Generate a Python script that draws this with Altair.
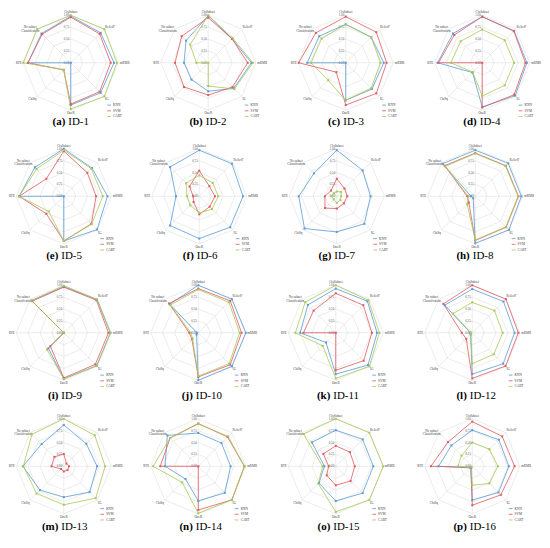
import math
import altair as alt
import pandas as pd

AXES = ["CfsSubset", "ReliefF", "mRMR", "IG", "OneR", "ChiSq", "RFE",
        "No subset\nClassification"]
SERIES = ["KNN", "SVM", "CART"]
COLORS = ["#5b9bd5", "#e05a5f", "#a8c85a"]
LETTERS = list("abcdefghijklmnop")
IDS = ["ID-%d" % i for i in range(1, 17)]
TICKS = [0.0, 0.25, 0.5, 0.75, 1.0]
TICK_LABELS = ["0.00", "0.25", "0.50", "0.75", "1.00"]

# values per panel, axis order: top, then clockwise
KNN = [
    [0.98, 0.89, 0.91, 0.89, 0.89, 0.00, 0.90, 0.87],
    [0.99, 0.71, 0.91, 0.76, 0.60, 0.50, 0.51, 0.66],
    [0.81, 0.76, 0.80, 0.78, 0.79, 0.00, 0.81, 0.79],
    [0.97, 0.95, 0.94, 0.98, 0.93, 0.29, 0.94, 0.87],
    [1.00, 0.84, 0.92, 0.99, 0.94, 0.00, 0.94, 0.86],
    [0.97, 0.97, 0.92, 0.92, 0.89, 0.87, 0.49, 0.87],
    [0.97, 0.77, 0.71, 0.82, 0.75, 0.96, 0.80, 0.68],
    [0.97, 0.98, 0.97, 1.00, 0.99, 0.06, 0.09, 0.97],
    [0.97, 0.99, 0.98, 0.98, 0.97, 0.46, 0.00, 0.96],
    [1.00, 1.00, 1.00, 1.00, 1.00, 0.05, 0.03, 0.85],
    [0.93, 0.94, 0.87, 0.96, 0.87, 0.29, 0.75, 0.83],
    [0.92, 0.93, 0.89, 0.92, 0.87, 0.05, 0.04, 0.82],
    [0.87, 0.67, 0.70, 0.77, 0.65, 0.71, 0.86, 0.66],
    [0.70, 0.69, 0.68, 0.79, 0.73, 0.38, 0.70, 0.92],
    [0.76, 0.80, 0.79, 0.80, 0.73, 0.50, 0.24, 0.71],
    [0.76, 0.79, 0.77, 0.78, 0.71, 0.05, 0.71, 0.62],
]
SVM = [
    [0.96, 0.86, 0.84, 0.86, 0.87, 0.21, 0.90, 0.85],
    [0.95, 0.71, 0.83, 0.72, 0.68, 0.72, 0.70, 0.79],
    [0.97, 0.91, 0.86, 0.91, 0.89, 0.28, 0.99, 0.89],
    [0.97, 0.94, 0.91, 0.95, 0.94, 0.00, 0.92, 0.83],
    [0.95, 0.70, 0.68, 0.82, 0.94, 0.52, 0.94, 0.52],
    [0.54, 0.30, 0.33, 0.31, 0.38, 0.17, 0.13, 0.29],
    [0.37, 0.23, 0.22, 0.21, 0.26, 0.35, 0.25, 0.17],
    [0.91, 0.91, 0.91, 0.92, 0.93, 0.19, 0.17, 0.91],
    [0.96, 0.97, 0.94, 0.94, 0.95, 0.40, 0.00, 0.94],
    [0.93, 0.95, 0.91, 0.95, 0.93, 0.19, 0.19, 0.87],
    [0.83, 0.82, 0.76, 0.83, 0.79, 0.00, 0.68, 0.66],
    [1.00, 1.00, 0.97, 0.99, 0.96, 0.18, 0.22, 0.86],
    [0.26, 0.08, 0.11, 0.11, 0.11, 0.08, 0.26, 0.28],
    [0.90, 0.87, 0.97, 1.00, 0.92, 0.00, 0.80, 0.84],
    [0.43, 0.42, 0.40, 0.44, 0.40, 0.27, 0.15, 0.37],
    [0.94, 0.89, 0.89, 0.85, 0.82, 0.03, 0.87, 0.72],
]
CART = [
    [1.00, 1.00, 0.97, 1.00, 0.97, 0.21, 1.00, 1.00],
    [1.00, 0.73, 0.94, 0.78, 0.49, 0.00, 0.25, 0.54],
    [0.81, 0.76, 0.73, 0.76, 0.79, 0.52, 0.73, 0.72],
    [0.70, 0.67, 0.67, 0.67, 0.70, 0.28, 0.66, 0.64],
    [0.97, 0.82, 0.82, 0.83, 0.94, 0.45, 0.94, 0.81],
    [0.44, 0.40, 0.40, 0.38, 0.35, 0.27, 0.26, 0.39],
    [0.10, 0.13, 0.09, 0.11, 0.14, 0.09, 0.11, 0.09],
    [0.90, 0.90, 0.90, 0.91, 0.92, 0.24, 0.15, 0.89],
    [0.99, 0.99, 0.98, 0.98, 0.97, 0.50, 0.00, 0.96],
    [0.91, 0.91, 0.87, 0.92, 0.91, 0.17, 0.16, 0.83],
    [1.00, 0.97, 0.92, 1.00, 0.96, 0.39, 0.85, 0.91],
    [0.64, 0.66, 0.64, 0.64, 0.65, 0.04, 0.03, 0.57],
    [1.00, 0.92, 0.87, 0.95, 0.81, 0.81, 0.85, 0.95],
    [0.89, 0.89, 0.97, 1.00, 0.99, 0.48, 0.95, 0.84],
    [1.00, 1.00, 1.00, 1.00, 0.96, 0.52, 0.28, 0.96],
    [0.50, 0.51, 0.54, 0.51, 0.40, 0.03, 0.30, 0.32],
]
SERIES_DATA = {"KNN": KNN, "SVM": SVM, "CART": CART}

# ---- layout (pixels) ----
S = 47.7                      # pixels per unit radius
W = 131
H = 130
CX = [[63, 68, 73, 77], [56, 59, 64, 70], [56, 58, 63, 67], [56, 58, 63, 67]]
CY = [54, 56, 61, 63]
CAP = [113, 116, 124, 124]
N = len(AXES)

# label placement per axis: (radius, align, baseline, dx, dy)
LABEL_POS = [(1.02, "center", "bottom", 0, 0), (1.02, "left", "bottom", 0, 0),
             (1.00, "left", "middle", 1.5, 0), (1.02, "left", "top", 0, 0),
             (1.02, "center", "top", 0, 0), (1.02, "right", "top", 0, 0),
             (1.00, "right", "middle", -1.5, 0), (1.00, "center", "bottom", -7, 0)]

AX_FONT = "Liberation Serif"
GRID = "#d9d9d9"


def ang(k):
    return 2 * math.pi * k / N


rings = pd.DataFrame([
    {"level": lv, "k": k, "x": lv * math.sin(ang(k)), "y": lv * math.cos(ang(k))}
    for lv in TICKS[1:] for k in range(N + 1)
])
spokes = pd.DataFrame([
    {"x": 0.0, "y": 0.0, "x2": math.sin(ang(k)), "y2": math.cos(ang(k))}
    for k in range(N)
])
ticks = pd.DataFrame({"x": [0.0] * len(TICKS), "y": TICKS, "label": TICK_LABELS})


def panel(i):
    r, c = divmod(i, 4)
    cx, cy = CX[r][c], CY[r]
    xs = alt.Scale(domain=[-cx / S, (W - cx) / S], nice=False, zero=False)
    ys = alt.Scale(domain=[-(H - cy) / S, cy / S], nice=False, zero=False)

    def X(f="x"):
        return alt.X(f, type="quantitative", scale=xs, axis=None)

    def Y(f="y"):
        return alt.Y(f, type="quantitative", scale=ys, axis=None)

    rows = []
    for s in SERIES:
        vals = SERIES_DATA[s][i]
        for k in range(N + 1):
            v = vals[k % N]
            rows.append({"series": s, "k": k, "value": v,
                         "x": v * math.sin(ang(k)), "y": v * math.cos(ang(k))})
    df = pd.DataFrame(rows)
    pts = df[df["k"] < N]

    layers = []
    layers.append(alt.Chart(rings).mark_line(stroke=GRID, strokeWidth=0.5).encode(
        x=X(), y=Y(), detail="level:N", order="k:Q"))
    layers.append(alt.Chart(spokes).mark_rule(stroke=GRID, strokeWidth=0.5).encode(
        x=X(), y=Y(), x2="x2:Q", y2="y2:Q"))
    layers.append(alt.Chart(ticks).mark_text(
        align="right", baseline="middle", dx=-1.5, fontSize=3.2, font=AX_FONT,
        color="#595959").encode(x=X(), y=Y(), text="label:N"))
    for k, name in enumerate(AXES):
        rad, al, bl, ddx, ddy = LABEL_POS[k]
        lab = pd.DataFrame({"x": [rad * math.sin(ang(k))],
                            "y": [rad * math.cos(ang(k))], "label": [name]})
        layers.append(alt.Chart(lab).mark_text(
            align=al, baseline=bl, dx=ddx, dy=ddy, fontSize=3.3, font=AX_FONT,
            color="#404040", lineBreak="\n", lineHeight=3.8).encode(
            x=X(), y=Y(), text="label:N"))

    legend = alt.Legend(orient="none", legendX=cx + 36, legendY=cy + 40, title=None,
                        labelFontSize=3.4, labelFont=AX_FONT, labelColor="#404040",
                        symbolType="stroke", symbolSize=14, symbolStrokeWidth=0.9,
                        rowPadding=0.7, padding=0, labelOffset=1.5)
    layers.append(alt.Chart(df).mark_line(strokeWidth=0.9, opacity=0.9).encode(
        x=X(), y=Y(), order="k:Q",
        color=alt.Color("series:N", scale=alt.Scale(domain=SERIES, range=COLORS),
                        sort=SERIES, legend=legend)))
    layers.append(alt.Chart(pts).mark_point(filled=True, shape="square", size=4,
                                            opacity=1).encode(
        x=X(), y=Y(),
        fill=alt.Fill("series:N", scale=alt.Scale(domain=SERIES, range=COLORS),
                      legend=None)))

    capy = -(CAP[r] - cy) / S
    cap = pd.DataFrame({"x": [0.0], "y": [capy], "letter": ["(%s)" % LETTERS[i]],
                        "pid": [IDS[i]]})
    layers.append(alt.Chart(cap).mark_text(
        align="right", baseline="middle", dx=-5.5, fontSize=11, fontWeight="bold",
        font="Liberation Serif", color="#000000").encode(x=X(), y=Y(), text="letter:N"))
    layers.append(alt.Chart(cap).mark_text(
        align="left", baseline="middle", dx=-2.5, fontSize=11,
        font="Liberation Serif", color="#000000").encode(x=X(), y=Y(), text="pid:N"))

    return alt.layer(*layers).properties(width=W, height=H)


row_charts = []
for r in range(4):
    row = alt.hconcat(*[panel(r * 4 + c) for c in range(4)], spacing=2, bounds="flush")
    row = row.resolve_scale(color="independent", fill="independent",
                            x="independent", y="independent").resolve_legend(
        color="independent")
    row_charts.append(row)

chart = alt.vconcat(*row_charts, spacing=2).resolve_scale(
    color="independent", fill="independent", x="independent", y="independent"
).resolve_legend(color="independent").properties(padding=0).configure_view(
    stroke=None)

chart.save("out.html", embed_options={"renderer": "svg", "actions": False})
